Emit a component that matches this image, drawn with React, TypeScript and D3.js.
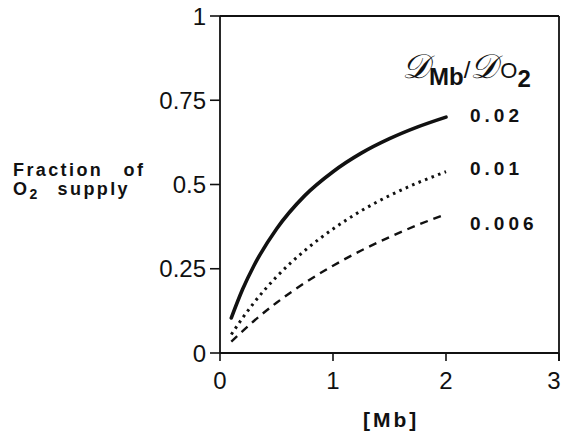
import React from "react";
import * as d3 from "d3";

// Mb concentration (x) and fraction of O2 supply carried by myoglobin (y)
const mbConc = [0.1, 0.2, 0.3, 0.5, 0.75, 1, 1.25, 1.5, 1.75, 2];
const frac002 = [0.104, 0.189, 0.259, 0.368, 0.467, 0.538, 0.593, 0.636, 0.671, 0.70];
const frac001 = [0.055, 0.104, 0.149, 0.226, 0.304, 0.368, 0.422, 0.467, 0.505, 0.538];
const frac0006 = [0.034, 0.065, 0.095, 0.149, 0.208, 0.259, 0.304, 0.344, 0.38, 0.412];
const seriesLabels = ["0.02", "0.01", "0.006"];
const xTicks = [0, 1, 2, 3];
const yTicks = [0, 0.25, 0.5, 0.75, 1];
const yTickLabels = ["0", "0.25", "0.5", "0.75", "1"];

const W = 563;
const H = 439;
const m = { left: 220, right: 4, top: 16, bottom: 86 };

export default function App() {
  const x = d3.scaleLinear().domain([0, 3]).range([m.left, W - m.right]);
  const y = d3.scaleLinear().domain([0, 1]).range([H - m.bottom, m.top]);
  const line = d3
    .line<[number, number]>()
    .x((d) => x(d[0]))
    .y((d) => y(d[1]))
    .curve(d3.curveMonotoneX);

  const series = [
    { vals: frac002, dash: undefined, w: 3.6, cap: "round" as const },
    { vals: frac001, dash: "2.6 4.4", w: 3, cap: "butt" as const },
    { vals: frac0006, dash: "8 6", w: 2.4, cap: "butt" as const },
  ];

  const labelFont = "Arial, 'Liberation Sans', Helvetica, sans-serif";
  const left = x(0);
  const right = x(3);
  const bottom = y(0);
  const top = y(1);

  return (
    <svg width={W} height={H} style={{ position: "absolute", left: 0, top: 0, background: "#fff" }}>
      {/* plot frame */}
      <line x1={left} x2={right} y1={top} y2={top} stroke="#111" strokeWidth={1.8} />
      <line x1={right} x2={right} y1={top} y2={bottom + 8} stroke="#111" strokeWidth={1.8} />
      <line x1={left} x2={right} y1={bottom} y2={bottom} stroke="#111" strokeWidth={1.8} />
      <line x1={left} x2={left} y1={top} y2={bottom} stroke="#111" strokeWidth={1.8} />
      {/* y ticks */}
      {yTicks.map((t, i) => (
        <g key={"y" + i}>
          <line x1={left - 10} x2={left} y1={y(t)} y2={y(t)} stroke="#111" strokeWidth={1.6} />
          <text
            x={left - 14}
            y={y(t)}
            dy="0.36em"
            textAnchor="end"
            fontFamily={labelFont}
            fontSize={24}
            fill="#111"
          >
            {yTickLabels[i]}
          </text>
        </g>
      ))}
      {/* x ticks */}
      {xTicks.map((t) => (
        <g key={"x" + t}>
          <line x1={x(t)} x2={x(t)} y1={bottom} y2={bottom + 8} stroke="#111" strokeWidth={1.6} />
          <text x={Math.min(x(t), W - 9)} y={389} textAnchor="middle" fontFamily={labelFont} fontSize={24} fill="#111">
            {t}
          </text>
        </g>
      ))}
      {/* curves */}
      {series.map((s, i) => (
        <path
          key={"s" + i}
          d={line(mbConc.map((v, j) => [v, s.vals[j]] as [number, number])) || ""}
          fill="none"
          stroke="#111"
          strokeWidth={s.w}
          strokeDasharray={s.dash}
          strokeLinecap={s.cap}
        />
      ))}
      {/* curve labels */}
      {seriesLabels.map((l, i) => (
        <text
          key={"l" + i}
          x={470}
          y={[122, 175, 230][i]}
          fontFamily={labelFont}
          fontWeight="bold"
          fontSize={19}
          letterSpacing={4}
          fill="#111"
        >
          {l}
        </text>
      ))}
      {/* legend title */}
      <text x={402} y={78} fill="#111">
        <tspan fontFamily="'DejaVu Serif', serif" fontStyle="italic" fontSize={34}>
          𝒟
        </tspan>
        <tspan fontFamily={labelFont} fontWeight="bold" fontSize={24} dy={7}>
          Mb
        </tspan>
        <tspan fontFamily={labelFont} fontSize={24} dy={-7}>
          /
        </tspan>
        <tspan fontFamily="'DejaVu Serif', serif" fontStyle="italic" fontSize={34}>
          𝒟
        </tspan>
        <tspan fontFamily={labelFont} fontSize={22} dx={3}>
          O
        </tspan>
        <tspan fontFamily={labelFont} fontWeight="bold" fontSize={24} dy={9}>
          2
        </tspan>
      </text>
      {/* y axis title */}
      <text fontFamily={labelFont} fontWeight="bold" fontSize={18} fill="#111" letterSpacing={2.4}>
        <tspan x={13} y={176} wordSpacing={13}>
          Fraction of
        </tspan>
      </text>
      <text fontFamily={labelFont} fontWeight="bold" fontSize={18} fill="#111" letterSpacing={2.4}>
        <tspan x={13} y={195}>
          O
        </tspan>
        <tspan fontSize={14} dy={4}>
          2
        </tspan>
        <tspan dy={-4} dx={18}>
          supply
        </tspan>
      </text>
      {/* x axis title */}
      <text
        x={363}
        y={427}
        fontFamily={labelFont}
        fontWeight="bold"
        fontSize={21}
        letterSpacing={3}
        fill="#111"
      >
        [Mb]
      </text>
    </svg>
  );
}
